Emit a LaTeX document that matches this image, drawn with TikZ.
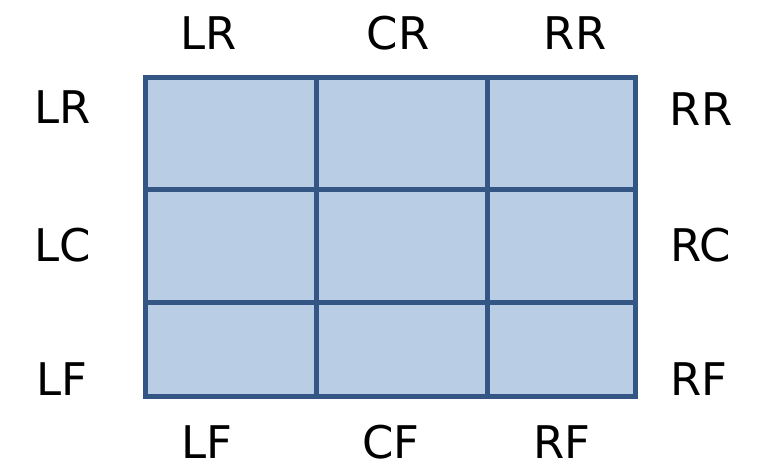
\documentclass[tikz,border=0pt]{standalone}
\usepackage{fontspec}
\setmainfont{DejaVu Sans}
\usetikzlibrary{positioning}
\definecolor{cellfill}{RGB}{185,205,229}
\definecolor{cellline}{RGB}{52,86,132}
\tikzset{
  cell/.style={draw=cellline,fill=cellfill,line width=5pt,inner sep=0pt},
  zone/.style={inner sep=0pt,text height=32.5pt,text depth=0pt,
               font=\fontsize{45}{50}\selectfont,text=black},
}
\begin{document}
\begin{tikzpicture}[x=1pt,y=-1pt]
  \useasboundingbox (0,0) rectangle (758,473);
  % ---------------- cells ----------------
  \node[cell,minimum width=171pt,minimum height=112pt] (c11) at (230.5,134) {};
  \node[cell,minimum width=171pt,minimum height=112pt] (c12) at (401.5,134) {};
  \node[cell,minimum width=148pt,minimum height=112pt] (c13) at (561,134)   {};
  \node[cell,minimum width=171pt,minimum height=112pt] (c21) at (230.5,246) {};
  \node[cell,minimum width=171pt,minimum height=112pt] (c22) at (401.5,246) {};
  \node[cell,minimum width=148pt,minimum height=112pt] (c23) at (561,246)   {};
  \node[cell,minimum width=171pt,minimum height=94pt]  (c31) at (230.5,349) {};
  \node[cell,minimum width=171pt,minimum height=94pt]  (c32) at (401.5,349) {};
  \node[cell,minimum width=148pt,minimum height=94pt]  (c33) at (561,349)   {};
  % ---------------- top / bottom labels ----------------
  \node[zone] (topL) at (209,33)  {LR};
  \node[zone] (topC) at (398,33)  {CR};
  \node[zone] (topR) at (575,33)  {RR};
  \node[zone] (botL) at (207,442) {LF};
  \node[zone] (botC) at (391,442) {CF};
  \node[zone] (botR) at (562,442) {RF};
  % ---------------- side labels ----------------
  \node[zone] (sideLR) at (63,107)  {LR};
  \node[zone] (sideLC) at (63,245)  {LC};
  \node[zone] (sideLF) at (62,379)  {LF};
  \node[zone] (sideRR) at (701,109) {RR};
  \node[zone] (sideRC) at (701,245) {RC};
  \node[zone] (sideRF) at (699,379) {RF};
\end{tikzpicture}
\end{document}
